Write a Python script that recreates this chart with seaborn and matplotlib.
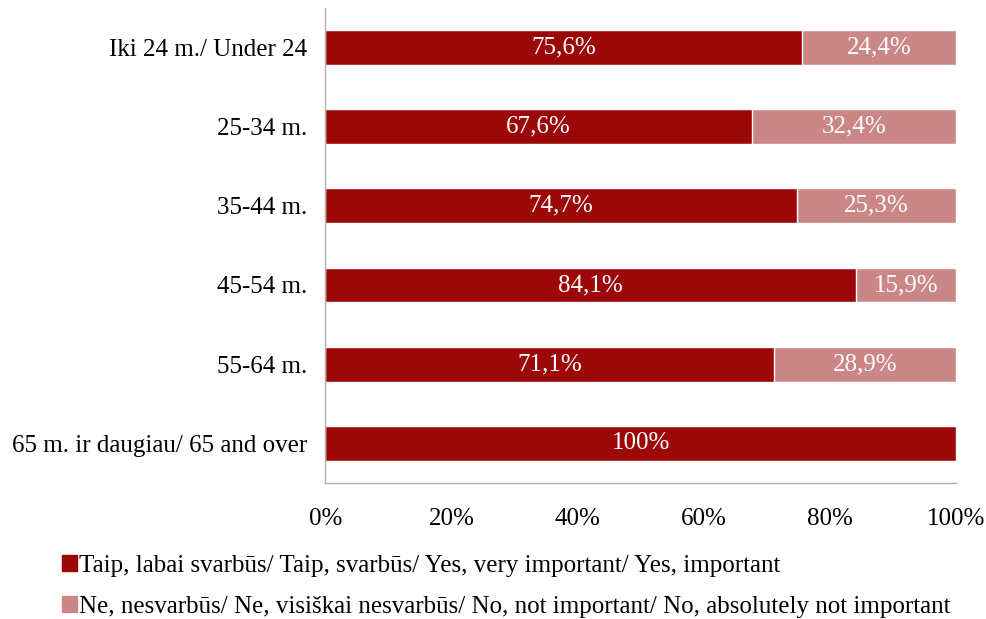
import matplotlib
matplotlib.use("Agg")
import matplotlib.pyplot as plt
import seaborn as sns
import pandas as pd
from matplotlib.patches import Patch

groups = ['Iki 24 m./ Under 24', '25-34 m.', '35-44 m.', '45-54 m.', '55-64 m.',
          '65 m. ir daugiau/ 65 and over']
yes_pct = [75.6, 67.6, 74.7, 84.1, 71.1, 100.0]
no_pct = [24.4, 32.4, 25.3, 15.9, 28.9, 0.0]
series_names = ['Taip, labai svarbūs/ Taip, svarbūs/ Yes, very important/ Yes, important',
                'Ne, nesvarbūs/ Ne, visiškai nesvarbūs/ No, not important/ No, absolutely not important']

df = pd.DataFrame({'group': groups, 'yes': yes_pct, 'no': no_pct})
df['total'] = df['yes'] + df['no']

sns.set_style("white")
plt.rcParams['font.family'] = ['Liberation Serif', 'DejaVu Serif']
plt.rcParams['text.color'] = 'black'

dark = '#9c0808'
light = '#cb8787'

fig, ax = plt.subplots(figsize=(9.86, 6.19), dpi=100)
fig.subplots_adjust(left=0.33, right=0.97, top=0.987, bottom=0.22)

# stacked: full length in light colour, then the "yes" part on top
sns.barplot(data=df, x='total', y='group', orient='h', color=light,
            width=0.44, saturation=1, ax=ax)
sns.barplot(data=df, x='yes', y='group', orient='h', color=dark,
            width=0.44, saturation=1, ax=ax)

def fmt(v):
    if v == 100:
        return '100%'
    return f'{v:.1f}%'.replace('.', ',')

for i, (y, n) in enumerate(zip(yes_pct, no_pct)):
    ax.text(y / 2, i, fmt(y), color='white', ha='center', va='center', fontsize=18)
    if n > 0:
        ax.text(y + n / 2, i, fmt(n), color='white', ha='center', va='center', fontsize=18)

ax.set_xlim(0, 100)
ax.set_ylim(5.5, -0.5)
ax.set_xticks([0, 20, 40, 60, 80, 100])
ax.set_xticklabels([f'{t}%' for t in [0, 20, 40, 60, 80, 100]], fontsize=18)
ax.tick_params(axis='y', labelsize=18, length=0, pad=13, labelcolor='black')
ax.tick_params(axis='x', length=0, pad=18, labelcolor='black')
ax.set_xlabel('')
ax.set_ylabel('')
for s in ['top', 'right']:
    ax.spines[s].set_visible(False)
for s in ['left', 'bottom']:
    ax.spines[s].set_color('#b0b0b0')
    ax.spines[s].set_linewidth(1.0)

handles = [Patch(color=dark), Patch(color=light)]
fig.legend(handles, series_names, loc='lower left', bbox_to_anchor=(0.045, -0.026),
           ncol=1, frameon=False, fontsize=18, handlelength=0.6, handleheight=0.6,
           handletextpad=0.1, labelspacing=0.75, borderaxespad=0.3)

plt.savefig('out.png', dpi=100)
